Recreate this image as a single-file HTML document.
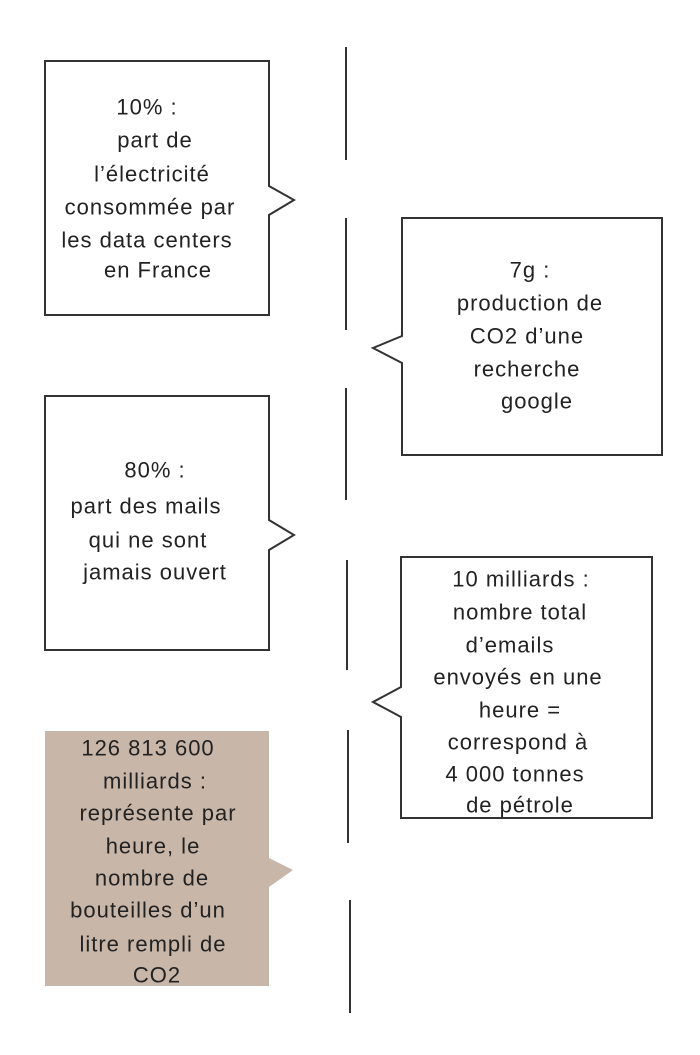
<!DOCTYPE html>
<html><head><meta charset="utf-8"><style>
html,body{margin:0;padding:0;background:#fff}
svg{display:block}
text{font-family:"Liberation Sans",sans-serif;font-size:22px;letter-spacing:1px;fill:#222;text-anchor:middle;dominant-baseline:central}
</style></head><body>
<svg width="700" height="1055" viewBox="0 0 700 1055">
<g stroke="#333" stroke-width="2">
<line x1="346" y1="47" x2="346" y2="160"/>
<line x1="346" y1="218" x2="346" y2="330"/>
<line x1="346" y1="388" x2="346" y2="500"/>
<line x1="347" y1="560" x2="347" y2="670"/>
<line x1="348" y1="730" x2="348" y2="843"/>
<line x1="350" y1="900" x2="350" y2="1013"/>
</g>
<g fill="#fff" stroke="#333" stroke-width="2" stroke-linejoin="miter">
<path d="M45 61 H269 V186 L294 200 L269 215 V315 H45 Z"/>
<path d="M402 218 H662 V455 H402 V363 L373 348 L402 336 Z"/>
<path d="M45 396 H269 V520 L294 535 L269 550 V650 H45 Z"/>
<path d="M401 557 H652 V818 H401 V717 L373 702 L401 687 Z"/>
</g>
<path d="M45 731 H269 V858 L293 870 L269 887 V986 H45 Z" fill="#c8b6a8"/>
<text x="147" y="107">10% :</text>
<text x="155" y="140">part de</text>
<text x="152" y="174">l’électricité</text>
<text x="150" y="207">consommée par</text>
<text x="147" y="240">les data centers</text>
<text x="158" y="270">en France</text>
<text x="530" y="270">7g :</text>
<text x="530" y="303">production de</text>
<text x="527" y="336">CO2 d’une</text>
<text x="527" y="369">recherche</text>
<text x="537" y="401">google</text>
<text x="155" y="470">80% :</text>
<text x="146" y="506">part des mails</text>
<text x="148" y="540">qui ne sont</text>
<text x="155" y="572">jamais ouvert</text>
<text x="521" y="579">10 milliards :</text>
<text x="520" y="612">nombre total</text>
<text x="510" y="645">d’emails</text>
<text x="518" y="677">envoyés en une</text>
<text x="520" y="710">heure =</text>
<text x="518" y="742">correspond à</text>
<text x="515" y="774">4 000 tonnes</text>
<text x="520" y="805">de pétrole</text>
<text x="148" y="748">126 813 600</text>
<text x="155" y="781">milliards :</text>
<text x="158" y="813">représente par</text>
<text x="153" y="846">heure, le</text>
<text x="152" y="878">nombre de</text>
<text x="148" y="910">bouteilles d’un</text>
<text x="153" y="944">litre rempli de</text>
<text x="157" y="975">CO2</text>
</svg>
</body></html>
